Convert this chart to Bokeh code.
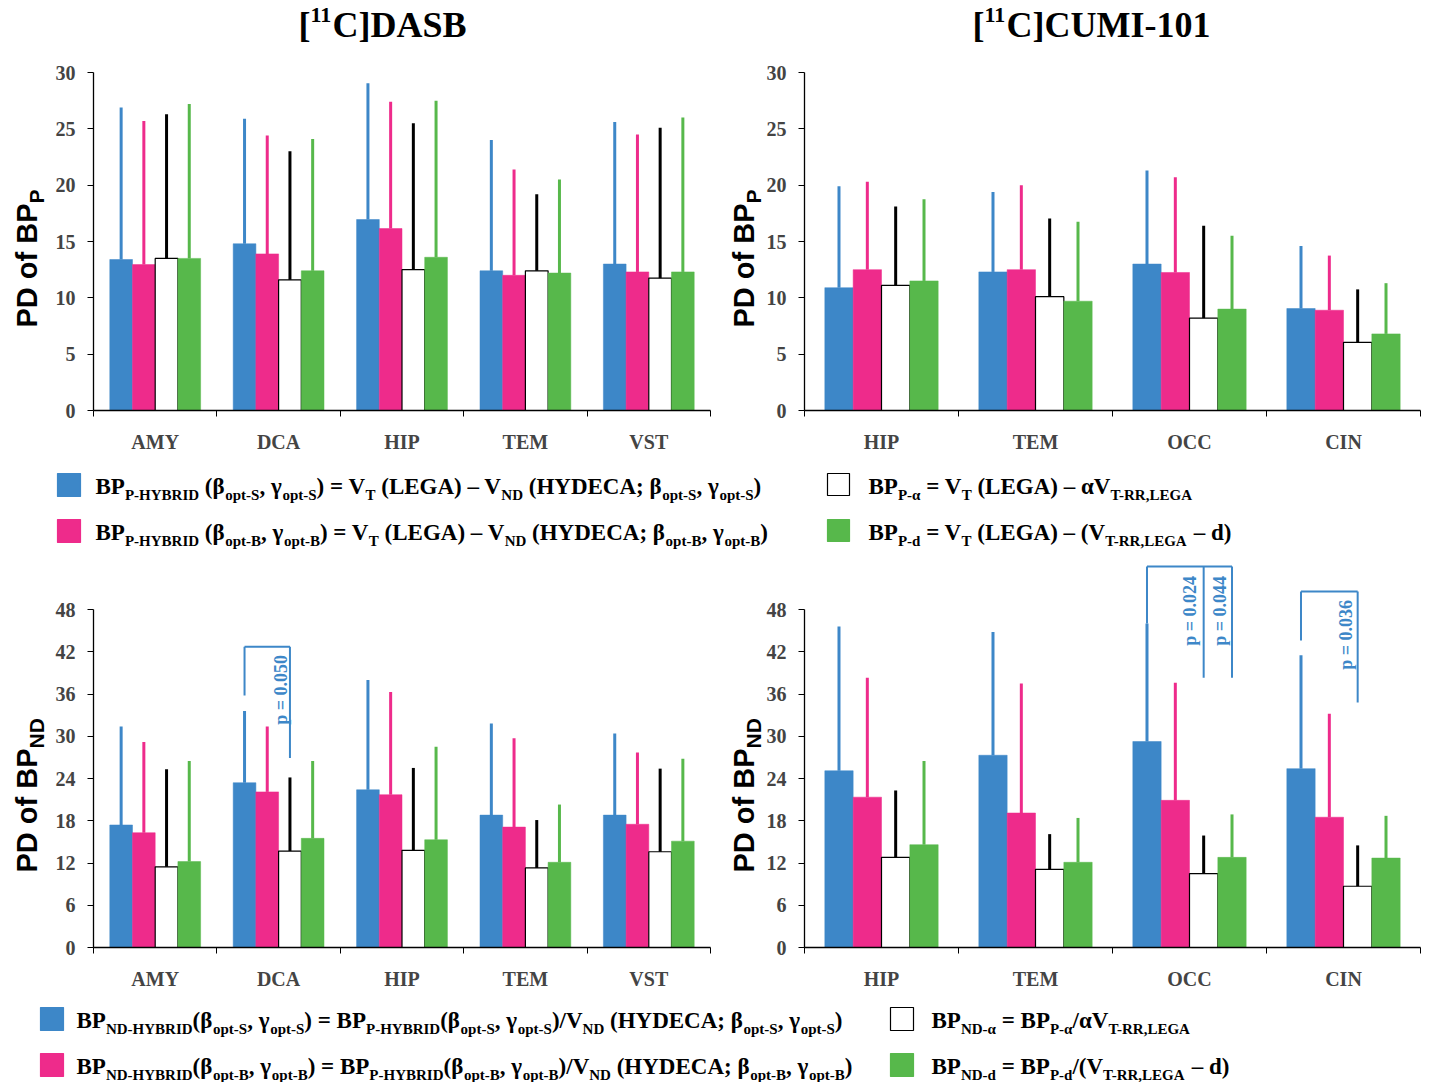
import math
from bokeh.plotting import figure
from bokeh.models import Range1d, FixedTicker, CustomJSTickFormatter, Label
from bokeh.layouts import column, row
from bokeh.embed import file_html
from bokeh.resources import INLINE

# ---------------- data ----------------
dasb_regions = ["AMY", "DCA", "HIP", "TEM", "VST"]
cumi_regions = ["HIP", "TEM", "OCC", "CIN"]

# order of series: HYBRID(opt-S) blue, HYBRID(opt-B) pink, alpha white, d green
dasb_bpp_mean = [
    [13.4, 14.8, 16.95, 12.4, 13.0],
    [12.95, 13.9, 16.15, 12.0, 12.3],
    [13.5, 11.6, 12.5, 12.4, 11.75],
    [13.5, 12.4, 13.6, 12.2, 12.3],
]
dasb_bpp_sd = [
    [13.5, 11.1, 12.1, 11.6, 12.6],
    [12.75, 10.5, 11.25, 9.4, 12.2],
    [12.8, 11.4, 13.0, 6.8, 13.35],
    [13.7, 11.7, 13.9, 8.3, 13.7],
]
cumi_bpp_mean = [
    [10.9, 12.3, 13.0, 9.05],
    [12.5, 12.5, 12.25, 8.9],
    [11.1, 10.1, 8.2, 6.05],
    [11.5, 9.7, 9.0, 6.8],
]
cumi_bpp_sd = [
    [9.0, 7.1, 8.3, 5.55],
    [7.8, 7.5, 8.45, 4.85],
    [7.0, 6.95, 8.2, 4.7],
    [7.25, 7.05, 6.5, 4.5],
]
dasb_bpnd_mean = [
    [17.4, 23.4, 22.4, 18.8, 18.8],
    [16.3, 22.1, 21.7, 17.1, 17.5],
    [11.45, 13.7, 13.8, 11.3, 13.6],
    [12.2, 15.5, 15.3, 12.1, 15.1],
]
dasb_bpnd_sd = [
    [14.0, 10.2, 15.6, 13.0, 11.6],
    [12.9, 9.3, 14.6, 12.6, 10.2],
    [13.85, 10.45, 11.7, 6.8, 11.8],
    [14.3, 11.0, 13.2, 8.2, 11.7],
]
cumi_bpnd_mean = [
    [25.1, 27.3, 29.25, 25.4],
    [21.35, 19.1, 20.9, 18.5],
    [12.8, 11.1, 10.5, 8.7],
    [14.6, 12.1, 12.8, 12.7],
]
cumi_bpnd_sd = [
    [20.5, 17.5, 16.75, 16.1],
    [16.95, 18.4, 16.7, 14.7],
    [9.5, 5.0, 5.4, 5.8],
    [11.9, 6.3, 6.1, 6.0],
]

bp_p_ticks = [0, 5, 10, 15, 20, 25, 30]
bp_nd_ticks = [0, 6, 12, 18, 24, 30, 36, 42, 48]

titles = [
    [("[", "n"), ("11", "sup"), ("C]DASB", "n")],
    [("[", "n"), ("11", "sup"), ("C]CUMI-101", "n")],
]
ylabel_p = [("PD of BP", "n"), ("P", "sub")]
ylabel_nd = [("PD of BP", "n"), ("ND", "sub")]

leg_top_left = [
    [("BP", "n"), ("P-HYBRID", "sub"), (" (β", "n"), ("opt-S", "sub"), (", γ", "n"), ("opt-S", "sub"),
     (") = V", "n"), ("T", "sub"), (" (LEGA) – V", "n"), ("ND", "sub"), (" (HYDECA; β", "n"),
     ("opt-S", "sub"), (", γ", "n"), ("opt-S", "sub"), (")", "n")],
    [("BP", "n"), ("P-HYBRID", "sub"), (" (β", "n"), ("opt-B", "sub"), (", γ", "n"), ("opt-B", "sub"),
     (") = V", "n"), ("T", "sub"), (" (LEGA) – V", "n"), ("ND", "sub"), (" (HYDECA; β", "n"),
     ("opt-B", "sub"), (", γ", "n"), ("opt-B", "sub"), (")", "n")],
]
leg_top_right = [
    [("BP", "n"), ("P-α", "sub"), (" = V", "n"), ("T", "sub"), (" (LEGA) – αV", "n"), ("T-RR,LEGA", "sub")],
    [("BP", "n"), ("P-d", "sub"), (" = V", "n"), ("T", "sub"), (" (LEGA) – (V", "n"), ("T-RR,LEGA", "sub"),
     (" – d)", "n")],
]
leg_bot_left = [
    [("BP", "n"), ("ND-HYBRID", "sub"), ("(β", "n"), ("opt-S", "sub"), (", γ", "n"), ("opt-S", "sub"),
     (") = BP", "n"), ("P-HYBRID", "sub"), ("(β", "n"), ("opt-S", "sub"), (", γ", "n"), ("opt-S", "sub"),
     (")/V", "n"), ("ND", "sub"), (" (HYDECA; β", "n"), ("opt-S", "sub"), (", γ", "n"), ("opt-S", "sub"),
     (")", "n")],
    [("BP", "n"), ("ND-HYBRID", "sub"), ("(β", "n"), ("opt-B", "sub"), (", γ", "n"), ("opt-B", "sub"),
     (") = BP", "n"), ("P-HYBRID", "sub"), ("(β", "n"), ("opt-B", "sub"), (", γ", "n"), ("opt-B", "sub"),
     (")/V", "n"), ("ND", "sub"), (" (HYDECA; β", "n"), ("opt-B", "sub"), (", γ", "n"), ("opt-B", "sub"),
     (")", "n")],
]
leg_bot_right = [
    [("BP", "n"), ("ND-α", "sub"), (" = BP", "n"), ("P-α", "sub"), ("/αV", "n"), ("T-RR,LEGA", "sub")],
    [("BP", "n"), ("ND-d", "sub"), (" = BP", "n"), ("P-d", "sub"), ("/(V", "n"), ("T-RR,LEGA", "sub"),
     (" – d)", "n")],
]

# p-value annotations
pvals_dasb_nd = ["p = 0.050"]
pvals_cumi_nd = ["p = 0.024", "p = 0.044", "p = 0.036"]

# ---------------- styling ----------------
BLUE = "#3d87c8"
PINK = "#ee2b8b"
GREEN = "#57b84b"
STYLES = [(BLUE, None, BLUE), (PINK, None, PINK), ("white", "black", "black"), (GREEN, None, GREEN)]
BW = 0.184
OFFS = [-1.5 * BW, -0.5 * BW, 0.5 * BW, 1.5 * BW]
SERIF = "Liberation Serif"
SANS = "Liberation Sans"

W_SERIF = {' ': 250, '[': 333, ']': 333, '(': 333, ')': 333, '-': 333, '=': 570, ';': 333, ',': 250,
           '.': 250, '/': 278, '–': 500, 'A': 722, 'B': 667, 'C': 722, 'D': 722, 'E': 667, 'G': 778,
           'H': 778, 'I': 389, 'L': 667, 'M': 944, 'N': 722, 'O': 778, 'P': 611, 'R': 722, 'S': 556,
           'T': 667, 'U': 722, 'V': 722, 'Y': 722, 'a': 500, 'd': 556, 'o': 500, 'p': 556, 't': 333,
           'α': 560, 'β': 556, 'γ': 500}
for c in "0123456789":
    W_SERIF[c] = 500
W_SANS = {' ': 278, 'P': 667, 'D': 722, 'o': 611, 'f': 333, 'B': 722, 'N': 722}
MID = 0.33  # distance from baseline to middle of capitals, in em


def text_width(s, size, table):
    return sum(table.get(c, 500) for c in s) * size / 1000.0


class Area:
    """A figure together with the mapping from page pixels to its data coordinates."""

    def __init__(self, p, x_zero, y_zero, ux, uy):
        self.p, self.x_zero, self.y_zero, self.ux, self.uy = p, x_zero, y_zero, ux, uy

    def conv(self, gx, gy):
        return (gx - self.x_zero) / self.ux, (self.y_zero - gy) / self.uy


def rich(a, gx, gy, runs, font, table, size_n, size_s, shift, color="black", vertical=False):
    """Lay out runs of text (normal / sub / sup) starting at baseline point (gx, gy) in page pixels."""
    pos = 0.0
    for txt, kind in runs:
        size = size_n if kind == "n" else size_s
        off = 0.0 if kind == "n" else (shift if kind == "sub" else -shift)
        off -= MID * size  # positive = towards the text's "down"
        core = txt.strip(" ")
        lead = len(txt) - len(txt.lstrip(" "))
        trail = len(txt) - len(txt.rstrip(" "))
        sp = table[" "] * size / 1000.0
        pos += lead * sp
        w = text_width(core, size, table)
        if core:
            if vertical:
                px, py = gx + off, gy - pos - w / 2
                align, ang = "center", math.pi / 2
            else:
                px, py = gx + pos, gy + off
                align, ang = "left", 0
            x, y = a.conv(px, py)
            a.p.add_layout(Label(x=x, y=y, text=core, angle=ang,
                                 text_font=font, text_font_style="bold", text_font_size=f"{size}px",
                                 text_color=color, text_align=align, text_baseline="middle"))
        pos += w + trail * sp


def panel(cats, means, sds, yticks, ybound, page_x0, page_y0, width, height, axis_x, axis_y, data_w, data_h):
    """Figure whose frame covers the whole canvas; both axes are pinned inside it.
    The y axis sits at data x = 0 (page x = axis_x); data y = 0 is at page y = axis_y."""
    n = len(cats)
    ux = data_w / n
    uy = data_h / ybound
    x_range = Range1d((page_x0 - axis_x) / ux, (page_x0 + width - axis_x) / ux)
    y_range = Range1d((axis_y - (page_y0 + height)) / uy, (axis_y - page_y0) / uy)
    p = figure(width=width, height=height, x_range=x_range, y_range=y_range,
               output_backend="svg", toolbar_location=None,
               min_border_left=0, min_border_right=0, min_border_top=0, min_border_bottom=0)
    p.outline_line_color = None
    p.grid.visible = False
    for k in range(4):
        xs = [i + 0.5 + OFFS[k] for i in range(n)]
        fill, line, err = STYLES[k]
        p.vbar(x=xs, top=means[k], bottom=0, width=BW, fill_color=fill,
               line_color=line if line else fill, line_width=1.2 if line else 0.5)
        p.segment(x0=xs, y0=means[k], x1=xs, y1=[m + s for m, s in zip(means[k], sds[k])],
                  line_color=err, line_width=3)
    xa = p.xaxis[0]
    xa.fixed_location = 0
    xa.bounds = (0, n)
    xa.ticker = FixedTicker(ticks=[i + 0.5 for i in range(n)], minor_ticks=list(range(n + 1)))
    xa.formatter = CustomJSTickFormatter(args=dict(labels=cats), code="return labels[Math.floor(tick)] || ''")
    xa.major_tick_line_color = None
    xa.major_tick_out = 0
    xa.major_tick_in = 0
    xa.minor_tick_line_color = "black"
    xa.minor_tick_out = 6
    xa.minor_tick_in = 0
    xa.axis_line_color = "black"
    xa.axis_line_width = 1.3
    xa.major_label_text_font = SERIF
    xa.major_label_text_font_style = "bold"
    xa.major_label_text_font_size = "20px"
    xa.major_label_standoff = 14
    ya = p.yaxis[0]
    ya.fixed_location = 0
    ya.ticker = FixedTicker(ticks=yticks, minor_ticks=[])
    ya.bounds = (0, ybound)
    ya.major_tick_out = 6
    ya.major_tick_in = 0
    ya.major_tick_line_color = "black"
    ya.axis_line_color = "black"
    ya.axis_line_width = 1.3
    ya.major_label_text_font = SERIF
    ya.major_label_text_font_style = "bold"
    ya.major_label_text_font_size = "20px"
    ya.major_label_standoff = 12
    return Area(p, axis_x, axis_y, ux, uy)


class Strip(Area):
    """Blank canvas at page position (x0, y0); its data coordinates are page pixels (y up)."""

    def __init__(self, x0, y0, w, h):
        p = figure(width=w, height=h, x_range=Range1d(0, w), y_range=Range1d(0, h),
                   output_backend="svg", toolbar_location=None, x_axis_location=None, y_axis_location=None,
                   min_border_left=0, min_border_right=0, min_border_top=0, min_border_bottom=0)
        p.outline_line_color = None
        p.grid.visible = False
        super().__init__(p, x0, y0 + h, 1.0, 1.0)


# ---------------- geometry (page pixels) ----------------
# top row: page y 0..460, axis (value 0) at y 410, value 30 at y 72
# bottom row: page y 560..995, axis at y 947, value 48 at y 609
a_tl = panel(dasb_regions, dasb_bpp_mean, dasb_bpp_sd, bp_p_ticks, 30, 0, 0, 720, 460, 93, 410, 617, 338)
a_tr = panel(cumi_regions, cumi_bpp_mean, cumi_bpp_sd, bp_p_ticks, 30, 720, 0, 709, 460, 804, 410, 616, 338)
a_bl = panel(dasb_regions, dasb_bpnd_mean, dasb_bpnd_sd, bp_nd_ticks, 48, 0, 560, 720, 435, 93, 947, 617, 338)
a_br = panel(cumi_regions, cumi_bpnd_mean, cumi_bpnd_sd, bp_nd_ticks, 48, 720, 560, 709, 435, 804, 947, 616, 338)
leg1 = Strip(0, 460, 1429, 100)
leg2 = Strip(0, 995, 1429, 87)

# titles
rich(a_tl, 298, 36, titles[0], SERIF, W_SERIF, 36, 22, 14)
rich(a_tr, 972, 36, titles[1], SERIF, W_SERIF, 36, 22, 14)

# y axis labels (rotated)
rich(a_tl, 36, 327, ylabel_p, SANS, W_SANS, 29, 21, 7, vertical=True)
rich(a_tr, 753, 327, ylabel_p, SANS, W_SANS, 29, 21, 7, vertical=True)
rich(a_bl, 36, 872, ylabel_nd, SANS, W_SANS, 29, 21, 7, vertical=True)
rich(a_br, 753, 872, ylabel_nd, SANS, W_SANS, 29, 21, 7, vertical=True)


# p-value brackets
def bracket(p, cat, legs, top):
    xs = [cat + 0.5 + OFFS[s] for s, _ in legs]
    p.line(x=[min(xs), max(xs)], y=[top, top], line_color=BLUE, line_width=2)
    for x, (s, b) in zip(xs, legs):
        p.line(x=[x, x], y=[top, b], line_color=BLUE, line_width=2)


bracket(a_bl.p, 1, [(0, 35.8), (2, 26.9)], 42.7)
bracket(a_br.p, 2, [(0, 46.0), (2, 38.3), (3, 38.3)], 54.1)
bracket(a_br.p, 3, [(0, 43.6), (2, 34.8)], 50.55)

ptext_pos = [(a_bl.p, 1.523, 36.6), (a_br.p, 2.506, 47.8), (a_br.p, 2.70, 47.8), (a_br.p, 3.516, 44.4)]
for txt, (pp, x, y) in zip(pvals_dasb_nd + pvals_cumi_nd, ptext_pos):
    pp.add_layout(Label(x=x, y=y, text=txt, angle=math.pi / 2, text_font=SERIF, text_font_style="bold",
                        text_font_size="18px", text_color=BLUE, text_align="center", text_baseline="middle"))


# ---------------- legends ----------------
def key(s, gx, gy, size, fill, line):
    l, t = s.conv(gx, gy)
    r, b = s.conv(gx + size, gy + size)
    s.p.quad(left=[l], right=[r], top=[t], bottom=[b], fill_color=fill, line_color=line, line_width=1.2)


key(leg1, 57, 473, 23, BLUE, BLUE)
key(leg1, 57, 519, 23, PINK, PINK)
key(leg1, 827, 473, 22, "white", "black")
key(leg1, 827, 519, 22, GREEN, GREEN)
rich(leg1, 95, 494, leg_top_left[0], SERIF, W_SERIF, 23, 15, 5)
rich(leg1, 95, 540, leg_top_left[1], SERIF, W_SERIF, 23, 15, 5)
rich(leg1, 868, 494, leg_top_right[0], SERIF, W_SERIF, 23, 15, 5)
rich(leg1, 868, 540, leg_top_right[1], SERIF, W_SERIF, 23, 15, 5)

key(leg2, 40, 1007, 23, BLUE, BLUE)
key(leg2, 40, 1053, 23, PINK, PINK)
key(leg2, 890, 1007, 23, "white", "black")
key(leg2, 890, 1053, 23, GREEN, GREEN)
rich(leg2, 76, 1028, leg_bot_left[0], SERIF, W_SERIF, 23, 15, 5)
rich(leg2, 76, 1074, leg_bot_left[1], SERIF, W_SERIF, 23, 15, 5)
rich(leg2, 931, 1028, leg_bot_right[0], SERIF, W_SERIF, 23, 15, 5)
rich(leg2, 931, 1074, leg_bot_right[1], SERIF, W_SERIF, 23, 15, 5)

layout = column(
    row(a_tl.p, a_tr.p),
    leg1.p,
    row(a_bl.p, a_br.p),
    leg2.p,
)
open("out.html", "w").write(file_html(layout, INLINE))
